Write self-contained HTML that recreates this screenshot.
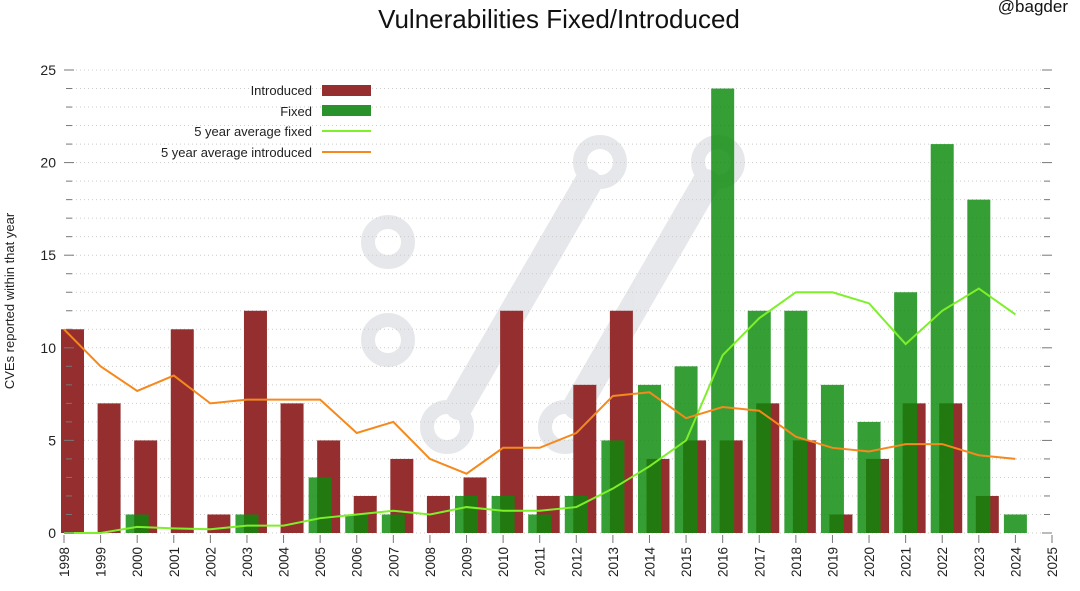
<!DOCTYPE html>
<html><head><meta charset="utf-8"><style>
body{margin:0;background:#fff;}
svg{display:block;font-family:"Liberation Sans",sans-serif;}
</style></head><body>
<svg id="c" width="1080" height="591">
<text x="559" y="28" font-size="26" text-anchor="middle" fill="#111">Vulnerabilities Fixed/Introduced</text>
<text x="1068" y="12" font-size="17" text-anchor="end" fill="#111">@bagder</text>
<g opacity="0.45" fill="none" stroke="#c8ccd2">
<circle cx="388" cy="242" r="20" stroke-width="14"/>
<circle cx="388" cy="340" r="20" stroke-width="14"/>
<line x1="459" y1="406" x2="588" y2="183" stroke-width="28" stroke-linecap="round"/>
<line x1="577" y1="406" x2="706" y2="183" stroke-width="28" stroke-linecap="round"/>
<circle cx="447" cy="427" r="20" stroke-width="14"/>
<circle cx="565" cy="427" r="20" stroke-width="14"/>
<circle cx="600" cy="162" r="20" stroke-width="14"/>
<circle cx="718" cy="162" r="20" stroke-width="14"/>
</g>
<g id="grid"></g><g id="bars"></g><g id="lines"></g><g id="axes"></g>
<g font-size="13" fill="#222">
<text x="312" y="95" text-anchor="end">Introduced</text>
<rect x="322" y="85" width="49" height="11" fill="#952f2f"/>
<text x="312" y="116" text-anchor="end">Fixed</text>
<rect x="322" y="105" width="49" height="11" fill="#2a922a"/>
<text x="312" y="136" text-anchor="end">5 year average fixed</text>
<line x1="322" y1="131" x2="371" y2="131" stroke="#7ef02a" stroke-width="2"/>
<text x="312" y="157" text-anchor="end">5 year average introduced</text>
<line x1="322" y1="152" x2="371" y2="152" stroke="#f5891d" stroke-width="2"/>
</g>
<text transform="translate(14,301) rotate(-90)" font-size="13" text-anchor="middle" fill="#222">CVEs reported within that year</text>
</svg>
<script>
const years=[1998,1999,2000,2001,2002,2003,2004,2005,2006,2007,2008,2009,2010,2011,2012,2013,2014,2015,2016,2017,2018,2019,2020,2021,2022,2023,2024];
const introduced=[11,7,5,11,1,12,7,5,2,4,2,3,12,2,8,12,4,5,5,7,5,1,4,7,7,2,0];
const fixed=[0,0,1,0,0,1,0,3,1,1,0,2,2,1,2,5,8,9,24,12,12,8,6,13,21,18,1];
const avgFixed=[0,0,0.33,0.25,0.2,0.4,0.4,0.8,1,1.2,1,1.4,1.2,1.2,1.4,2.4,3.6,5,9.6,11.6,13,13,12.4,10.2,12,13.2,11.8];
const avgIntroduced=[11,9,7.67,8.5,7,7.2,7.2,7.2,5.4,6,4,3.2,4.6,4.6,5.4,7.4,7.6,6.2,6.8,6.6,5.2,4.6,4.4,4.8,4.8,4.2,4.0];
const yTicks=[0,5,10,15,20,25];
const xTickLabels=[1998,1999,2000,2001,2002,2003,2004,2005,2006,2007,2008,2009,2010,2011,2012,2013,2014,2015,2016,2017,2018,2019,2020,2021,2022,2023,2024,2025];
const X0=64,X1=1052,Y0=533,Y1=70;
const xs=y=>X0+(y-1998)*(X1-X0)/27;
const ys=v=>Y0-v*(Y0-Y1)/25;
const NS='http://www.w3.org/2000/svg';
function mk(tag,attrs,parent){const e=document.createElementNS(NS,tag);for(const k in attrs)e.setAttribute(k,attrs[k]);document.getElementById(parent).appendChild(e);return e;}
for(let v=0;v<=25;v++){
  const g=mk('line',{x1:X0+8,x2:X1-8,y1:ys(v),y2:ys(v),stroke:'#ccc','stroke-dasharray':'1,3','stroke-width':1},'grid');
  
  
  const major=v%5===0;
  const t1=mk('line',{x1:major?X0:X0+2,x2:major?X0+10:X0+8,y1:ys(v),y2:ys(v),stroke:'#777','stroke-width':1},'axes');
  
  
  const t2=mk('line',{x1:major?X1-10:X1-8,x2:major?X1:X1-2,y1:ys(v),y2:ys(v),stroke:'#777','stroke-width':1},'axes');
  
  
}
yTicks.forEach(v=>{
  const t=mk('text',{x:X0-8,y:ys(v)+5,'font-size':14,'text-anchor':'end',fill:'#222'},'axes');
  t.textContent=v;
  
  
});
xTickLabels.forEach(y=>{
  const x=xs(y);
  const l=mk('line',{x1:x,x2:x,y1:Y0+2,y2:Y0+10,stroke:'#777'},'axes');
  
  
  const t=mk('text',{transform:`translate(${x+5},${Y0+14}) rotate(-90)`,'font-size':13.5,'text-anchor':'end',fill:'#222'},'axes');
  t.textContent=y;
  
  
});
years.forEach((y,i)=>{
  const x=xs(y);
  if(introduced[i]>0){
    const r=mk('rect',{x:x-3,y:ys(introduced[i]),width:23,height:Y0-ys(introduced[i]),fill:'#952f2f'},'bars');
    
    
  }
});
years.forEach((y,i)=>{
  const x=xs(y);
  if(fixed[i]>0){
    const r=mk('rect',{x:x-11.5,y:ys(fixed[i]),width:23,height:Y0-ys(fixed[i]),fill:'#098a09','fill-opacity':0.82},'bars');
    
    
  }
});
const p1=mk('polyline',{points:years.map((y,i)=>xs(y)+','+ys(avgFixed[i])).join(' '),fill:'none',stroke:'#7ef02a','stroke-width':2},'lines');


const p2=mk('polyline',{points:years.map((y,i)=>xs(y)+','+ys(avgIntroduced[i])).join(' '),fill:'none',stroke:'#f5891d','stroke-width':2},'lines');


</script>
</body></html>
